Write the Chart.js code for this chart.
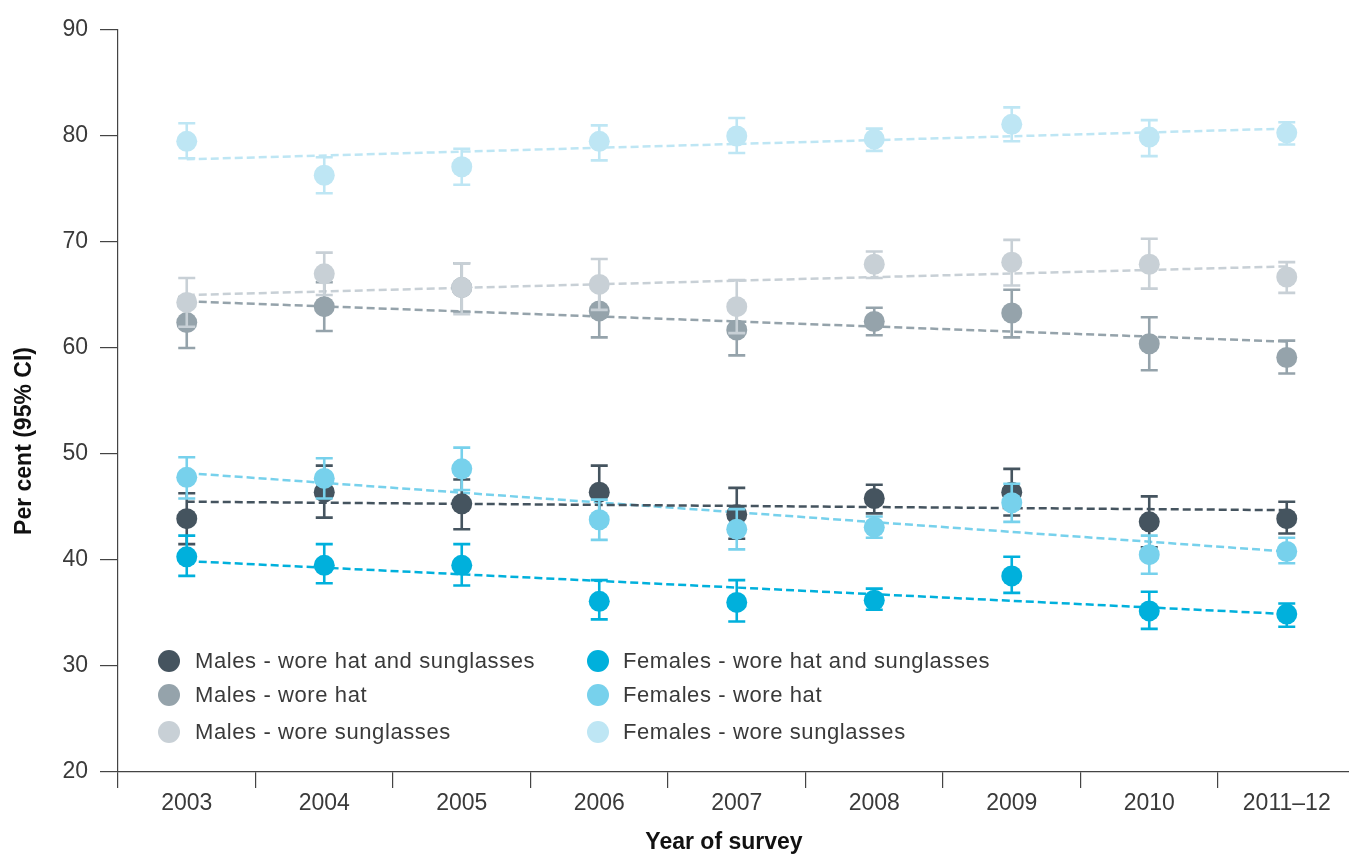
<!DOCTYPE html>
<html>
<head>
<meta charset="utf-8">
<script src="https://cdn.jsdelivr.net/npm/chart.js@4.4.1/dist/chart.umd.min.js"></script>
<style>
html,body{margin:0;padding:0;background:#fff;overflow:hidden;}
#c{display:block;width:1360px;height:855px;}
</style>
</head>
<body>
<canvas id="c" width="1360" height="855"></canvas>
<script>
const years = ['2003','2004','2005','2006','2007','2008','2009','2010','2011–12'];
const yTicks = [20,30,40,50,60,70,80,90];

const seriesLabels = [
  'Males - wore hat and sunglasses',
  'Males - wore hat',
  'Males - wore sunglasses',
  'Females - wore hat and sunglasses',
  'Females - wore hat',
  'Females - wore sunglasses'
];
const seriesColors = ['#45545f','#95a3ab','#c8d0d6','#00b0dc','#77d1ec','#bee6f4'];

// point estimates
const malesHatSun   = [43.9,46.4,45.3,46.4,44.3,45.8,46.4,43.6,43.9];
const malesHat      = [62.4,63.9,65.7,63.5,61.7,62.5,63.3,60.4,59.1];
const malesSun      = [64.3,67.0,65.7,66.0,63.9,67.9,68.1,67.9,66.7];
const femalesHatSun = [40.3,39.5,39.5,36.1,36.0,36.2,38.5,35.2,34.9];
const femalesHat    = [47.8,47.7,48.6,43.8,42.9,43.1,45.4,40.5,40.8];
const femalesSun    = [79.5,76.3,77.1,79.5,80.0,79.7,81.1,79.9,80.3];

// 95% CI lower / upper
const malesHatSunLo   = [41.5,44.0,42.9,44.0,42.0,44.4,44.2,41.2,42.5];
const malesHatSunHi   = [46.3,48.9,47.6,48.9,46.8,47.1,48.6,46.0,45.5];
const malesHatLo      = [60.0,61.6,63.4,61.0,59.3,61.2,61.0,57.9,57.6];
const malesHatHi      = [64.8,66.2,68.0,65.9,64.1,63.8,65.5,62.9,60.7];
const malesSunLo      = [62.0,65.0,63.2,63.6,61.4,66.6,65.9,65.6,65.2];
const malesSunHi      = [66.6,69.0,68.0,68.4,66.4,69.1,70.2,70.3,68.1];
const femalesHatSunLo = [38.5,37.8,37.6,34.4,34.2,35.3,36.9,33.5,33.7];
const femalesHatSunHi = [42.3,41.5,41.5,38.1,38.1,37.3,40.3,37.0,35.9];
const femalesHatLo    = [45.8,45.8,46.6,41.9,41.0,42.1,43.6,38.7,39.7];
const femalesHatHi    = [49.7,49.6,50.6,45.7,44.8,44.1,47.2,42.3,42.1];
const femalesSunLo    = [77.9,74.6,75.4,77.7,78.4,78.6,79.5,78.1,79.2];
const femalesSunHi    = [81.2,78.0,78.8,81.0,81.7,80.7,82.7,81.5,81.3];

// linear trend lines: value at first and last survey
const trendStart = [45.5,64.4,65.0,39.9,48.2,77.8];
const trendEnd   = [44.7,60.6,67.7,34.9,40.8,80.7];

const pointSeries = [malesHatSun,malesHat,malesSun,femalesHatSun,femalesHat,femalesSun];
const loSeries = [malesHatSunLo,malesHatLo,malesSunLo,femalesHatSunLo,femalesHatLo,femalesSunLo];
const hiSeries = [malesHatSunHi,malesHatHi,malesSunHi,femalesHatSunHi,femalesHatHi,femalesSunHi];
// drawing order (higher drawn first)
const drawOrder = [3,5,4,0,1,2];

const FONT = '"Liberation Sans", Arial, sans-serif';
const TEXT = '#3a3a3a';
const CAT_W = 137.5;   // pixel width of one survey slot
const AXIS_LEFT = 118;

const datasets = [];
for (let i = 0; i < 6; i++) {
  datasets.push({
    label: seriesLabels[i],
    data: pointSeries[i].map((v, j) => ({ x: j, y: v })),
    showLine: false,
    pointRadius: 10.5,
    pointHoverRadius: 10.5,
    pointBackgroundColor: seriesColors[i],
    pointBorderWidth: 0,
    borderColor: seriesColors[i],
    backgroundColor: seriesColors[i],
    order: drawOrder[i],
    errLo: loSeries[i],
    errHi: hiSeries[i]
  });
}
for (let i = 0; i < 6; i++) {
  datasets.push({
    label: 'trend ' + seriesLabels[i],
    data: [{ x: 0, y: trendStart[i] }, { x: years.length - 1, y: trendEnd[i] }],
    showLine: true,
    borderColor: seriesColors[i],
    borderWidth: 2.5,
    borderDash: [8, 4],
    pointRadius: 0,
    fill: false,
    order: 20
  });
}

const errorBars = {
  id: 'errorBars',
  beforeDatasetDraw(chart, args) {
    const ds = chart.data.datasets[args.index];
    if (!ds.errLo) return;
    const ctx = chart.ctx, y = chart.scales.y;
    const meta = args.meta;
    ctx.save();
    ctx.strokeStyle = ds.borderColor;
    ctx.lineWidth = 2.6;
    ctx.lineCap = 'butt';
    meta.data.forEach((pt, j) => {
      const x = pt.x;
      const y1 = y.getPixelForValue(ds.errLo[j]);
      const y2 = y.getPixelForValue(ds.errHi[j]);
      ctx.beginPath();
      ctx.moveTo(x, y1); ctx.lineTo(x, y2);
      ctx.moveTo(x - 8.5, y1); ctx.lineTo(x + 8.5, y1);
      ctx.moveTo(x - 8.5, y2); ctx.lineTo(x + 8.5, y2);
      ctx.stroke();
    });
    ctx.restore();
  }
};

const extras = {
  id: 'extras',
  afterDraw(chart) {
    const ctx = chart.ctx;
    ctx.save();
    // legend
    const cols = [[169, 195], [598, 623]];
    const rows = [661, 695, 732];
    ctx.font = '22px ' + FONT;
    try { ctx.letterSpacing = '0.6px'; } catch (e) {}
    ctx.textBaseline = 'middle';
    ctx.textAlign = 'left';
    for (let i = 0; i < 6; i++) {
      const c = cols[Math.floor(i / 3)], r = rows[i % 3];
      ctx.fillStyle = seriesColors[i];
      ctx.beginPath(); ctx.arc(c[0], r, 11, 0, Math.PI * 2); ctx.fill();
      ctx.fillStyle = TEXT;
      ctx.fillText(seriesLabels[i], c[1], r + 1);
    }
    try { ctx.letterSpacing = '0px'; } catch (e) {}
    // axis titles
    ctx.font = 'bold 23px ' + FONT;
    ctx.fillStyle = '#111';
    ctx.textAlign = 'center';
    ctx.fillText('Year of survey', 724, 843);
    ctx.translate(25, 441);
    ctx.rotate(-Math.PI / 2);
    ctx.fillText('Per cent (95% CI)', 0, 0);
    ctx.restore();
  }
};

const chart = new Chart(document.getElementById('c'), {
  type: 'line',
  data: { datasets },
  options: {
    responsive: false,
    animation: false,
    events: [],
    layout: { padding: { top: 30, right: 0, left: 0, bottom: 0 } },
    plugins: { legend: { display: false }, tooltip: { enabled: false } },
    scales: {
      x: {
        type: 'linear',
        min: -0.5,
        max: 8.5,
        afterBuildTicks(s) { s.ticks = years.map((_, j) => ({ value: j })); },
        grid: { offset: true, drawOnChartArea: false, drawTicks: true, tickLength: 16, color: '#444', lineWidth: 1.2 },
        border: { display: true, color: '#444', width: 1.2 },
        ticks: {
          color: TEXT, font: { family: FONT, size: 23 }, padding: 2, maxRotation: 0, autoSkip: false,
          callback: (v) => years[v]
        },
        afterFit(s) { s.height = 83; }
      },
      y: {
        min: 20, max: 90,
        afterBuildTicks(s) { s.ticks = yTicks.map(v => ({ value: v })); },
        grid: { drawOnChartArea: false, drawTicks: true, tickLength: 18, color: '#444', lineWidth: 1.2 },
        border: { display: true, color: '#444', width: 1.2 },
        ticks: { color: TEXT, font: { family: FONT, size: 23 }, padding: 12 },
        afterFit(s) { s.width = AXIS_LEFT; }
      }
    }
  },
  plugins: [errorBars, extras]
});
// keep a fixed slot width: fit the x range to the plot width actually obtained
const area = chart.chartArea;
chart.options.scales.x.max = -0.5 + (area.right - area.left) / CAT_W;
chart.update();
</script>
</body>
</html>
